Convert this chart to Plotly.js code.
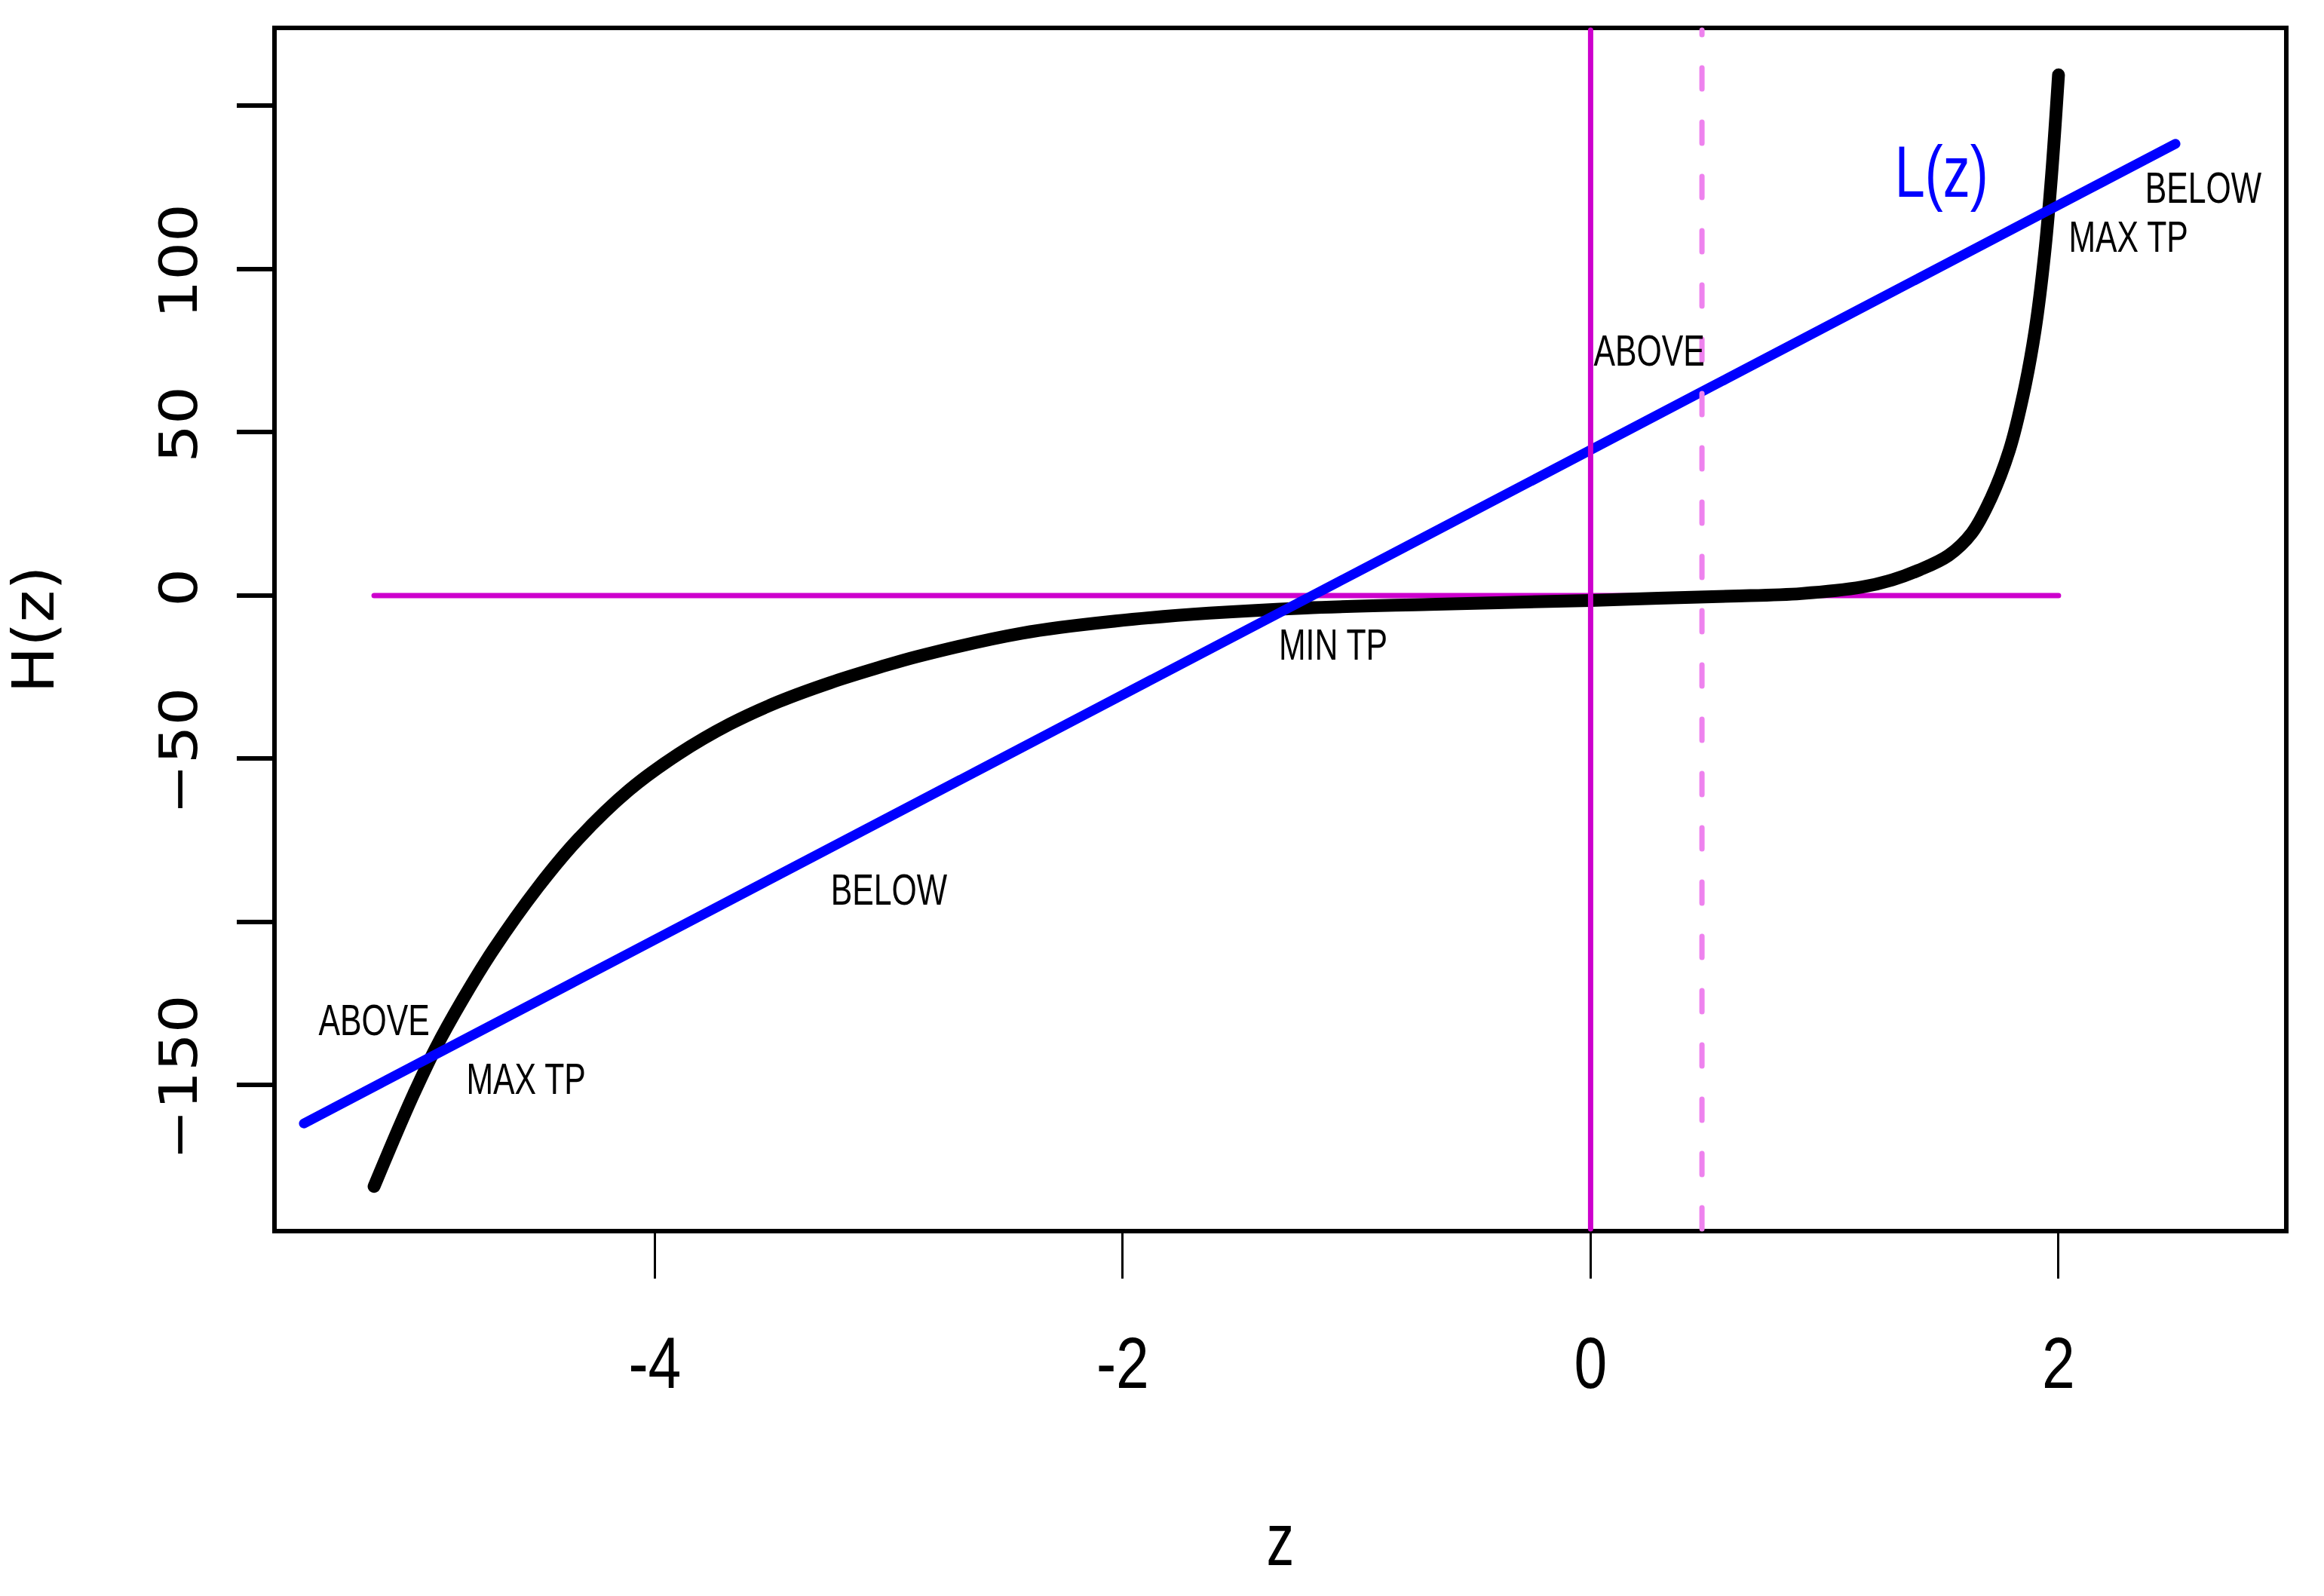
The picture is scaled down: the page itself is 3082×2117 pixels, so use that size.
<!DOCTYPE html>
<html>
<head>
<meta charset="utf-8">
<script src="https://cdn.plot.ly/plotly-3.0.1.min.js"></script>
<style>
  html, body { margin: 0; padding: 0; background: #fff; }
  #chart { width: 3082px; height: 2117px; }
  .scatterlayer .js-line, .shapelayer path { stroke-linecap: round; }
</style>
</head>
<body>
<div id="chart"></div>
<script>
// H(z)
const hZ = [-5.20, -5.10, -5.03, -4.94, -4.82, -4.69, -4.50, -4.33, -4.11, -3.90,
    -3.68, -3.47, -3.25, -3.04, -2.88, -2.43, -2.03, -1.63, -1.22, -0.69,
    0.00, 0.29, 0.60, 0.90, 1.16, 1.29, 1.40, 1.53, 1.63, 1.71,
    1.79, 1.85, 1.90, 1.94, 1.97, 2.00];
const hVal = [-181.0, -164.0, -152.6, -139.1, -123.6, -108.5, -89.4, -74.8, -59.6, -48.6,
    -39.4, -32.5, -26.7, -22.0, -18.7, -11.5, -7.8, -5.4, -3.8, -2.7,
    -1.5, -0.8, -0.2, 0.6, 2.6, 4.8, 7.7, 12.3, 19.2, 29.6,
    44.5, 61.7, 81.3, 104.3, 128.4, 159.5];

// L(z) straight line
const lZ = [-5.5, 2.5];
const lVal = [-161.7, 138.4];

// horizontal zero line
const zeroZ = [-5.2, 2.0];
const zeroVal = [0, 0];

// vertical lines
const solidLineZ = 0;
const dashLineZ = 0.476;

// text labels
const noteZ = [0.25, 2.3, 2.62, -1.1, -3.0, -5.2, -4.55];
const noteH = [75, 110, 125, -15, -90, -130, -148];
const noteText = ['ABOVE', 'MAX TP', 'BELOW', 'MIN TP', 'BELOW', 'ABOVE', 'MAX TP'];
const lLabel = {z: 1.5, h: 130, text: 'L(z)'};

// ticks
const xTickVals = [-4, -2, 0, 2];
const xTickText = ['-4', '-2', '0', '2'];
const yTickVals = [-150, -100, -50, 0, 50, 100, 150];
const yTickText = ['\u2212150', '', '\u221250', '0', '50', '100', ''];

const sans = '"Liberation Sans", Arial, sans-serif';
const dejavu = '"DejaVu Sans", sans-serif';
const magenta = '#CD00CD';

const traces = [
    {
        x: zeroZ, y: zeroVal, type: 'scatter', mode: 'lines',
        line: {color: magenta, width: 7},
    },
    {
        x: hZ, y: hVal, type: 'scatter', mode: 'lines',
        line: {color: '#000000', width: 17, shape: 'spline', smoothing: 1},
    },
    {
        x: lZ, y: lVal, type: 'scatter', mode: 'lines',
        line: {color: '#0000FF', width: 13},
    },
];

const annotations = noteText.map(function (t, i) {
    return {
        x: noteZ[i], y: noteH[i], xref: 'x', yref: 'y', text: t, showarrow: false,
        font: {family: sans, size: 57, color: '#000000'},
        xanchor: 'center', yanchor: 'middle',
    };
});
annotations.push({
    x: lLabel.z, y: lLabel.h, xref: 'x', yref: 'y', text: lLabel.text, showarrow: false,
    font: {family: sans, size: 96, color: '#0000FF'},
    xanchor: 'center', yanchor: 'middle',
});

const layout = {
    width: 3082,
    height: 2117,
    margin: {l: 367, r: 53, t: 40, b: 487},
    paper_bgcolor: '#ffffff',
    plot_bgcolor: '#ffffff',
    showlegend: false,
    xaxis: {
        range: [-5.616, 2.964],
        showgrid: false, zeroline: false,
        showline: true, mirror: true, linecolor: '#000000', linewidth: 6,
        ticks: 'outside', ticklen: 60, tickwidth: 3, tickcolor: '#000000',
        tickmode: 'array', tickvals: xTickVals, ticktext: xTickText,
        tickfont: {family: sans, size: 96, color: '#000000'},
        ticklabelstandoff: 30,
        title: {text: 'z', font: {family: sans, size: 98, color: '#000000'}, standoff: 149},
        automargin: false,
    },
    yaxis: {
        range: [-194, 173.2],
        showgrid: false, zeroline: false,
        showline: true, mirror: true, linecolor: '#000000', linewidth: 6,
        ticks: 'outside', ticklen: 47, tickwidth: 6, tickcolor: '#000000',
        tickmode: 'array', tickvals: yTickVals, ticktext: yTickText,
        tickangle: -90,
        tickfont: {family: dejavu, size: 70, color: '#000000'},
        ticklabelstandoff: 25,
        title: {text: 'H(z)', font: {family: dejavu, size: 76, color: '#000000'}, standoff: 133},
        automargin: false,
    },
    shapes: [
        {
            type: 'line', xref: 'x', yref: 'paper',
            x0: solidLineZ, x1: solidLineZ, y0: 0, y1: 1,
            line: {color: magenta, width: 7},
        },
        {
            type: 'line', xref: 'x', yref: 'paper',
            x0: dashLineZ, x1: dashLineZ, y0: 0, y1: 1,
            line: {color: '#EE82EE', width: 7, dash: '28px,44px'},
        },
    ],
    annotations: annotations,
};

// the original text is drawn narrow on the x side and wide on the y side,
// so squeeze/stretch each text along its own baseline
function stretchText(root, selector, factor) {
    root.querySelectorAll(selector).forEach(function (el) {
        const box = el.getBBox();
        const cx = box.x + box.width / 2;
        const prev = el.getAttribute('transform') || '';
        el.setAttribute('transform',
            prev + ' translate(' + cx + ',0) scale(' + factor + ',1) translate(' + (-cx) + ',0)');
    });
}

Plotly.newPlot('chart', traces, layout, {displayModeBar: false, staticPlot: true}).then(function (gd) {
    stretchText(gd, '.xtick text', 0.82);
    stretchText(gd, '.g-xtitle text', 0.75);
    stretchText(gd, '.annotation-text', 0.75);
    stretchText(gd, '.ytick text', 1.14);
    stretchText(gd, '.g-ytitle text', 1.08);
});
</script>
</body>
</html>
